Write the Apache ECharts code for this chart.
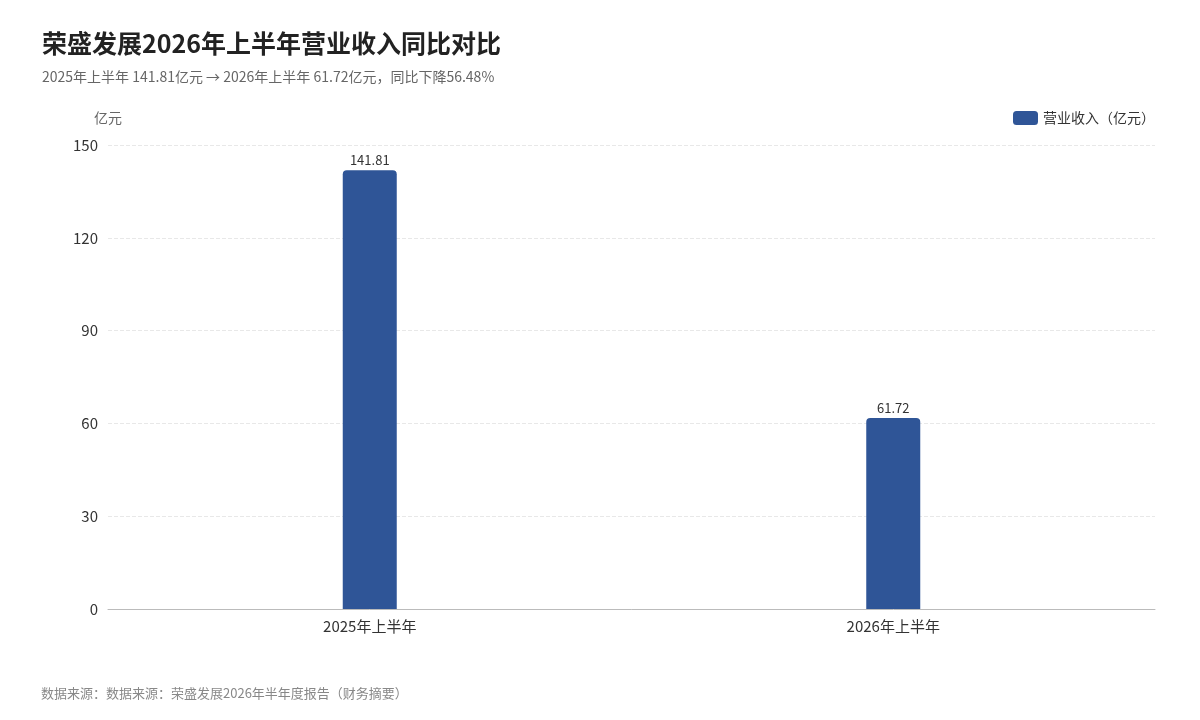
<!DOCTYPE html>
<html>
<head>
<meta charset="utf-8">
<script src="https://cdn.jsdelivr.net/npm/echarts@6/dist/echarts.min.js"></script>
<style>
  html, body { margin: 0; padding: 0; background: #fff; }
  #main { width: 1200px; height: 720px; }
</style>
</head>
<body>
<div id="main"></div>
<script>
var periods = ['2025年上半年', '2026年上半年'];
var revenue = [141.81, 61.72];
var sourceNote = '数据来源：数据来源：荣盛发展2026年半年度报告（财务摘要）';

var font = '"Noto Sans CJK SC", "Noto Sans", sans-serif';
var myChart = echarts.init(document.getElementById('main'));

myChart.setOption({
    backgroundColor: '#fff',
    textStyle: { fontFamily: font },
    title: [{
        text: '荣盛发展2026年上半年营业收入同比对比',
        subtext: '2025年上半年 141.81亿元 → 2026年上半年 61.72亿元，同比下降56.48%',
        left: 37,
        top: 26,
        itemGap: 14,
        textStyle: { fontSize: 25, fontWeight: 'bold', color: '#222', fontFamily: font },
        subtextStyle: { fontSize: 14, color: '#666', fontFamily: font }
    }, {
        text: sourceNote,
        left: 36,
        bottom: 15,
        textStyle: { fontSize: 13, fontWeight: 'normal', color: '#888', fontFamily: font }
    }],
    legend: {
        right: 40,
        top: 106,
        itemWidth: 25,
        itemHeight: 14,
        textStyle: { fontSize: 14, color: '#333', fontFamily: font },
        data: ['营业收入（亿元）']
    },
    grid: { left: 108, right: 45, top: 145, bottom: 111 },
    xAxis: {
        type: 'category',
        data: periods,
        axisTick: { show: false },
        axisLine: { lineStyle: { color: '#bbb' } },
        axisLabel: { fontSize: 15, color: '#333', margin: 10, fontFamily: font }
    },
    yAxis: {
        type: 'value',
        name: '亿元',
        nameGap: 20,
        nameTextStyle: { fontSize: 14, color: '#666', align: 'center' },
        min: 0,
        max: 150,
        interval: 30,
        axisLabel: { fontSize: 15, color: '#333', margin: 10 },
        splitLine: { lineStyle: { type: 'dashed', color: '#e8e8e8' } }
    },
    series: [{
        name: '营业收入（亿元）',
        type: 'bar',
        data: revenue,
        barWidth: 54,
        itemStyle: { color: '#2f5597', borderRadius: [4, 4, 0, 0] },
        label: {
            show: true,
            position: 'top',
            distance: 4,
            fontSize: 13,
            color: '#333',
            fontFamily: font
        }
    }]
});
window.onresize = function () {
    myChart.resize();
};
</script>
</body>
</html>
